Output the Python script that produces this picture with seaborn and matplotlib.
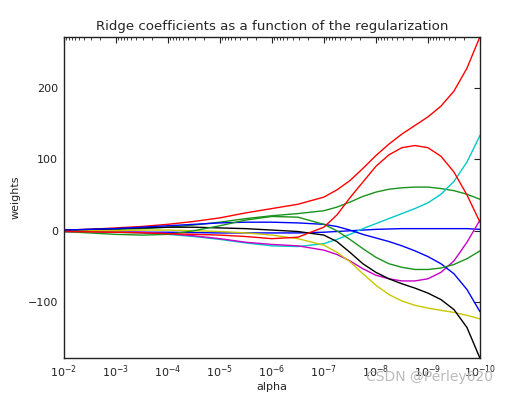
import matplotlib
matplotlib.use("Agg")
import matplotlib.pyplot as plt
from matplotlib.ticker import LogLocator, NullFormatter
import seaborn as sns
import numpy as np
import pandas as pd

# alpha exponents (half decades, then quarter decades)
exponents = [-2, -2.5, -3, -3.5, -4, -4.5, -5, -5.5, -6, -6.5, -7,
             -7.25, -7.5, -7.75, -8, -8.25, -8.5, -8.75, -9, -9.25, -9.5, -9.75, -10]
alphas = [10.0 ** e for e in exponents]

coef_b1 = [-1, -1, -1.5, -2, -2, -2.5, -3, -3, -3, -3, -2,
           -1, 0, 1, 2, 2.5, 3, 3, 3, 3, 3, 3, 2]
coef_g1 = [0, 1, 2, 3, 5, 8, 12, 17, 21, 24, 28,
           33, 40, 48, 54, 58, 60, 61, 61, 59, 56, 51, 44]
coef_r1 = [1, 2, 4, 6, 9, 13, 18, 25, 31, 37, 47,
           57, 70, 87, 105, 121, 135, 147, 159, 174, 195, 227, 271]
coef_c = [-1, -1, -2, -3, -5, -8, -12, -17, -21, -22, -18,
          -12, -5, 3, 10, 17, 24, 31, 39, 51, 69, 96, 133]
coef_m = [-1, -1, -2, -2, -4, -7, -11, -16, -19, -21, -27,
          -33, -42, -53, -62, -67, -70, -70, -67, -58, -42, -16, 15]
coef_y = [0, 0, 0, 1, 1, 0, -1, -3, -6, -11, -20,
          -30, -43, -60, -76, -89, -98, -104, -108, -111, -114, -118, -123]
coef_k = [1, 2, 3, 4, 5, 5, 4, 3, 1, -1, -6,
          -15, -30, -46, -58, -67, -74, -80, -87, -96, -110, -135, -178]
coef_b2 = [1, 2, 3, 5, 7, 9, 11, 12, 12, 11, 9,
           6, 1, -5, -10, -15, -21, -28, -36, -46, -60, -82, -113]
coef_g2 = [-1, -3, -5, -6, -5, 0, 7, 15, 20, 19, 9,
           0, -12, -25, -37, -46, -51, -54, -54, -52, -47, -39, -28]
coef_r2 = [-1, -1.5, -2, -3, -4, -5, -6, -8, -11, -9, 5,
           22, 46, 68, 90, 106, 116, 119, 116, 104, 82, 50, 12]

series = {
    "w0": coef_b1, "w1": coef_g1, "w2": coef_r1, "w3": coef_c, "w4": coef_m,
    "w5": coef_y, "w6": coef_k, "w7": coef_b2, "w8": coef_g2, "w9": coef_r2,
}
colors = ["#0000ff", "#1a931a", "#ff0000", "#00c8c8", "#c800c8",
          "#c8c800", "#000000", "#0000ff", "#1a931a", "#ff0000"]

rows = []
for name, vals in series.items():
    for a, v in zip(alphas, vals):
        rows.append({"alpha": a, "weight": v, "coef": name})
df = pd.DataFrame(rows)

sns.set_style("white")
plt.rcParams['font.family'] = ['DejaVu Sans']

fig = plt.figure(figsize=(5.09, 3.94), dpi=100)
ax = fig.add_axes([0.125, 0.0906, 0.818, 0.8164])

sns.lineplot(data=df, x="alpha", y="weight", hue="coef", palette=colors,
             estimator=None, sort=False, linewidth=1.0, legend=False, ax=ax)

ax.set_xscale("log")
ax.set_xlim(1e-2, 1e-10)
ax.xaxis.set_major_locator(LogLocator(base=10, numticks=20))
ax.xaxis.set_minor_locator(LogLocator(base=10, subs=np.arange(2, 10), numticks=200))
ax.xaxis.set_minor_formatter(NullFormatter())
all_vals = np.concatenate([np.array(v, dtype=float) for v in series.values()])
ax.set_ylim(all_vals.min(), all_vals.max())
ax.set_yticks([-100, 0, 100, 200])

for s in ax.spines.values():
    s.set_color("#222222")
    s.set_linewidth(1.0)
ax.tick_params(which="both", direction="in", top=True, right=True,
               colors="#222222", labelsize=8, pad=4)
ax.tick_params(which="major", length=4, width=0.8)
ax.tick_params(which="minor", length=2, width=0.6)

ax.set_title("Ridge coefficients as a function of the regularization",
             fontsize=9.6, pad=5)
ax.set_xlabel("alpha", fontsize=8, labelpad=1)
ax.set_ylabel("weights", fontsize=8, labelpad=5)

fig.text(0.968, 0.025, "CSDN @Perley620", ha="right", va="bottom",
         fontsize=10, color="#b4b4b4", alpha=0.9)

fig.savefig("out.png", dpi=100)
